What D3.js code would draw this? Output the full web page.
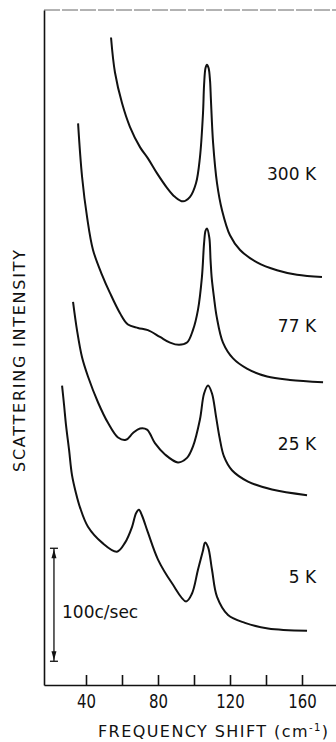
<!DOCTYPE html>
<html>
<head>
<meta charset="utf-8">
<script src="https://cdn.jsdelivr.net/npm/d3@7"></script>
<style>
  body { margin: 0; background: #fff; }
  svg { display: block; }
  text { font-family: "DejaVu Sans", sans-serif; fill: #111; }
</style>
</head>
<body>
<svg id="chart"></svg>
<script>
// frequency shift (cm-1) vs scattering intensity (c/sec, curves stacked)
const freqTicks = [40, 60, 80, 100, 120, 140, 160];
const tickLabels = ["40", "", "80", "", "120", "", "160"];

const series300K = [[53.9,573],[56.1,542],[60.0,515],[64.4,494],[70.0,476],[74.4,466],[79.4,453],[85.0,440],[89.4,432],
  [93.9,428],[97.8,432],[101.1,444],[103.3,467],[105.0,506],[105.6,531],[106.4,546],[107.2,549],[108.1,546],
  [108.9,535],[109.4,518],[110.6,480],[112.8,444],[115.6,420],[120.0,398],[125.6,385],[135.0,374],[146.1,367],
  [157.2,363],[171.1,361]];

const series77K = [[35.6,497],[37.8,450],[40.6,414],[43.9,385],[48.9,363],[53.3,347],[58.9,329],[63.3,319],[68.9,316],
  [74.4,314],[81.1,308],[86.7,303],[91.7,301],[96.1,303],[99.4,314],[102.2,332],[104.4,361],[105.6,391],[106.4,402],
  [107.2,404],[108.5,396],[109.2,376],[109.8,361],[111.1,343],[112.6,326],[116.1,303],[121.7,289],[129.4,280],
  [140.6,273],[153.3,270],[171.7,268]];

const series25K = [[32.8,339],[35.0,314],[37.8,290],[41.1,273],[46.7,250],[52.2,232],[57.8,219],[62.2,217],[66.1,223],
  [70.0,227],[73.9,226],[78.3,214],[83.9,204],[91.1,197],[96.1,201],[99.4,211],[103.3,235],[105.6,258],[107.8,265],
  [110.0,258],[112.2,238],[114.2,219],[116.7,202],[121.1,190],[130.0,180],[143.3,173],[162.8,168]];

const series5K = [[26.7,265],[27.8,248],[28.9,230],[30.6,208],[32.2,186],[34.4,170],[36.7,157],[41.1,140],[48.9,126],
  [57.2,118],[61.7,126],[65.6,140],[67.8,152],[69.4,155],[71.1,150],[74.4,135],[80.0,111],[87.8,90],[95.6,74],
  [98.9,81],[102.2,102],[105.0,119],[106.1,126],[107.8,122],[110.0,102],[112.8,78],[118.9,62],[128.3,55],
  [141.1,50],[162.8,48]];

const allSeries = [series300K, series77K, series25K, series5K];
const curveLabels = ["300 K", "77 K", "25 K", "5 K"];
const labelLevels = [447, 312, 208, 90];
const labelFreq = 167.8;

const scaleBarFreq = 22.2;
const scaleBarRange = [21, 121];
const scaleBarText = "100c/sec";

const W = 336, H = 742;
const frame = { left: 44, right: 336, top: 10, bottom: 685 };

const svg = d3.select("#chart").attr("width", W).attr("height", H);

const x = d3.scaleLinear().domain([40 + (frame.left - 86) / 1.8, 40 + (frame.right - 86) / 1.8])
  .range([frame.left, frame.right]);
const y = d3.scaleLinear().domain([0, (frame.bottom - frame.top) / 1.13])
  .range([frame.bottom, frame.top]);

// top border (faint)
svg.append("line")
  .attr("x1", frame.left).attr("x2", frame.right)
  .attr("y1", frame.top).attr("y2", frame.top)
  .attr("stroke", "#666").attr("stroke-width", 1).attr("stroke-dasharray", "16,2");

// left axis: line only
svg.append("g")
  .attr("transform", `translate(${frame.left},0)`)
  .call(d3.axisLeft(y).tickValues([]).tickSizeOuter(0))
  .select(".domain").attr("stroke", "#111").attr("stroke-width", 1.6);

// bottom axis, ticks pointing up
const xAxis = svg.append("g")
  .attr("transform", `translate(0,${frame.bottom})`)
  .call(d3.axisBottom(x).tickValues(freqTicks)
    .tickFormat((d, i) => tickLabels[i]).tickSize(-10).tickSizeOuter(0).tickPadding(10));
xAxis.select(".domain").attr("stroke", "#111").attr("stroke-width", 1.6);
xAxis.selectAll(".tick line").attr("stroke", "#111").attr("stroke-width", 1.6);
xAxis.selectAll(".tick text")
  .attr("font-size", 19)
  .attr("font-family", "DejaVu Sans, sans-serif")
  .attr("fill", "#111")
  .each(function (d, i) {
    const t = tickLabels[i];
    if (t) d3.select(this).attr("textLength", t.length * 9.5).attr("lengthAdjust", "spacingAndGlyphs");
  });

// axis titles
const xt = svg.append("text")
  .attr("x", 98).attr("y", 737)
  .attr("font-size", 16)
  .attr("textLength", 230).attr("lengthAdjust", "spacing");
xt.append("tspan").text("FREQUENCY SHIFT (cm");
xt.append("tspan").attr("dy", -6).attr("font-size", 10).text("-1");
xt.append("tspan").attr("dy", 6).text(")");

svg.append("text")
  .attr("transform", "rotate(-90)")
  .attr("x", -361).attr("y", 25)
  .attr("text-anchor", "middle")
  .attr("font-size", 16)
  .attr("textLength", 222).attr("lengthAdjust", "spacing")
  .text("SCATTERING INTENSITY");

// curves
const line = d3.line()
  .x(d => x(d[0]))
  .y(d => y(d[1]))
  .curve(d3.curveCatmullRom.alpha(0.5));

svg.append("g")
  .selectAll("path")
  .data(allSeries)
  .join("path")
  .attr("d", line)
  .attr("fill", "none")
  .attr("stroke", "#111")
  .attr("stroke-width", 2)
  .attr("stroke-linejoin", "round");

// curve labels
svg.append("g")
  .selectAll("text")
  .data(curveLabels)
  .join("text")
  .attr("x", x(labelFreq))
  .attr("y", (d, i) => y(labelLevels[i]))
  .attr("text-anchor", "end")
  .attr("font-size", 17)
  .text(d => d);

// scale bar
const bx = x(scaleBarFreq);
const by0 = y(scaleBarRange[1]), by1 = y(scaleBarRange[0]);
const bar = svg.append("g").attr("stroke", "#111").attr("stroke-width", 1.3);
bar.append("line").attr("x1", bx).attr("x2", bx).attr("y1", by0).attr("y2", by1);
[by0, by1].forEach(v => {
  bar.append("line").attr("x1", bx - 4).attr("x2", bx + 4).attr("y1", v).attr("y2", v);
});
bar.append("path")
  .attr("d", `M${bx},${by0 + 1}L${bx - 2.5},${by0 + 10}L${bx + 2.5},${by0 + 10}Z`)
  .attr("fill", "#111").attr("stroke", "none");
bar.append("path")
  .attr("d", `M${bx},${by1 - 1}L${bx - 2.5},${by1 - 10}L${bx + 2.5},${by1 - 10}Z`)
  .attr("fill", "#111").attr("stroke", "none");

svg.append("text")
  .attr("x", 62).attr("y", 618)
  .attr("font-size", 17)
  .text(scaleBarText);
</script>
</body>
</html>
